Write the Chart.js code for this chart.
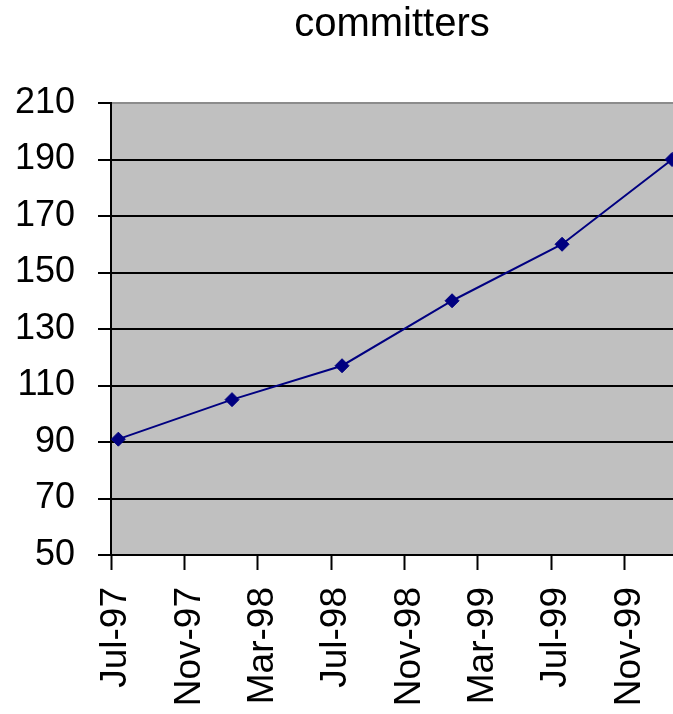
<!DOCTYPE html>
<html>
<head>
<meta charset="utf-8">
<title>committers</title>
<script src="https://cdn.jsdelivr.net/npm/chart.js@4/dist/chart.umd.min.js"></script>
<style>
  html, body { margin: 0; padding: 0; background: #fff; }
  canvas { display: block; }
</style>
</head>
<body>
<canvas id="committersChart" width="673" height="714"></canvas>
<script>
const monthOffsets = [0.4, 6.6, 12.6, 18.6, 24.6, 30.6];
const committers = [91, 105, 117, 140, 160, 190];
// Date axis labels, one every 4 months starting at Jul-97
const xTickLabels = ['Jul-97', 'Nov-97', 'Mar-98', 'Jul-98', 'Nov-98', 'Mar-99', 'Jul-99', 'Nov-99'];

const FONT = "'Liberation Sans', Arial, sans-serif";

// grey plot area like the old Excel default
const plotBackground = {
    id: 'plotBackground',
    beforeDraw(chart) {
        const { ctx, chartArea: a } = chart;
        ctx.save();
        ctx.fillStyle = '#c0c0c0';
        ctx.fillRect(a.left, a.top, a.right - a.left, a.bottom - a.top);
        ctx.restore();
    }
};

const points = monthOffsets.map((m, i) => ({ x: m, y: committers[i] }));

new Chart(document.getElementById('committersChart'), {
    type: 'line',
    data: {
        datasets: [{
            label: 'committers',
            data: points,
            borderColor: '#000080',
            backgroundColor: '#000080',
            borderWidth: 2,
            pointStyle: 'rectRot',
            pointRadius: 7,
            pointBorderWidth: 1,
            tension: 0,
            clip: false
        }]
    },
    options: {
        responsive: false,
        animation: false,
        devicePixelRatio: 1,
        layout: { padding: 0, autoPadding: false },
        plugins: {
            legend: { display: false },
            tooltip: { enabled: false },
            title: {
                display: true,
                text: 'committers',
                color: '#000',
                fullSize: false,
                font: { family: FONT, size: 40, weight: 'normal' },
                padding: { top: 1, bottom: 54 }
            }
        },
        scales: {
            x: {
                type: 'linear',
                min: 0,
                max: 30.65,
                border: { color: '#000', width: 2 },
                grid: {
                    drawOnChartArea: false,
                    drawTicks: true,
                    tickLength: 15,
                    tickColor: '#000',
                    tickWidth: 2
                },
                ticks: {
                    stepSize: 4,
                    includeBounds: false,
                    autoSkip: false,
                    maxRotation: 90,
                    minRotation: 90,
                    padding: 17,
                    labelOffset: 5,
                    color: '#000',
                    font: { family: FONT, size: 37 },
                    callback: (v) => xTickLabels[Math.round(v / 4)] || ''
                },
                afterFit: (scale) => {
                    scale.height = 159;
                    scale.paddingLeft = 0;
                    scale.paddingRight = 0;
                }
            },
            y: {
                min: 50,
                max: 210,
                border: { color: '#000', width: 2 },
                grid: {
                    color: (c) => (c.tick && c.tick.value === 210) ? '#8c8c8c' : '#000',
                    lineWidth: 2,
                    tickLength: 13,
                    tickColor: '#000',
                    tickWidth: 2
                },
                ticks: {
                    stepSize: 20,
                    padding: 23,
                    color: '#000',
                    font: { family: FONT, size: 36 }
                },
                afterFit: (scale) => {
                    scale.width = 111;
                    scale.paddingTop = 0;
                    scale.paddingBottom = 0;
                }
            }
        }
    },
    plugins: [plotBackground]
});
</script>
</body>
</html>
